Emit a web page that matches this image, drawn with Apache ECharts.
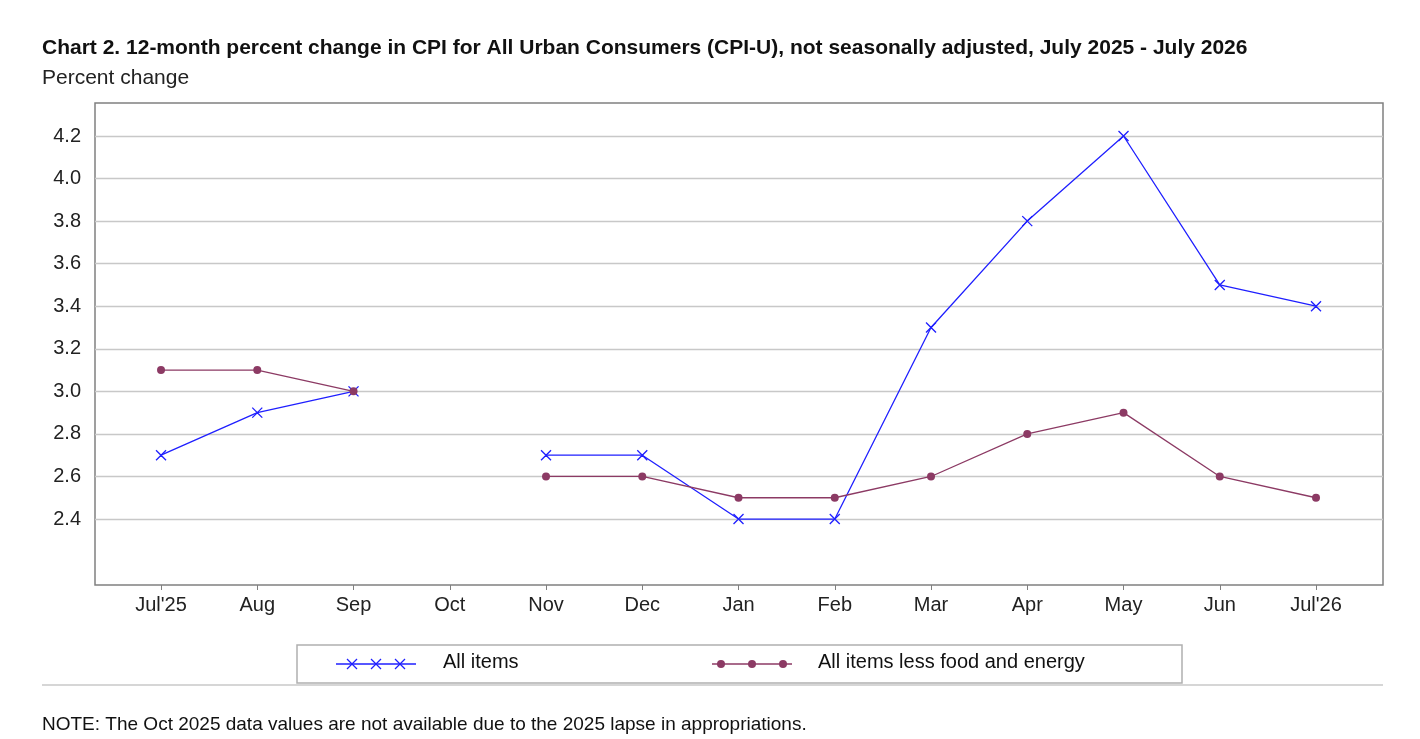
<!DOCTYPE html>
<html>
<head>
<meta charset="utf-8">
<script src="https://cdn.jsdelivr.net/npm/echarts@6/dist/echarts.min.js"></script>
<style>
  html, body { margin: 0; padding: 0; background: #fff; }
  #main { width: 1420px; height: 739px; }
</style>
</head>
<body>
<div id="main"></div>
<script>
var months = ["Jul'25", "Aug", "Sep", "Oct", "Nov", "Dec", "Jan", "Feb", "Mar", "Apr", "May", "Jun", "Jul'26"];
var allItems = [2.7, 2.9, 3.0, null, 2.7, 2.7, 2.4, 2.4, 3.3, 3.8, 4.2, 3.5, 3.4];
var coreItems = [3.1, 3.1, 3.0, null, 2.6, 2.6, 2.5, 2.5, 2.6, 2.8, 2.9, 2.6, 2.5];
var yTicks = [2.4, 2.6, 2.8, 3.0, 3.2, 3.4, 3.6, 3.8, 4.0, 4.2];

var blue = '#1f1fff';
var plum = '#8c3a64';
var crossPath = 'path://M0,0L10,10L5,5L10,0L0,10L5,5Z';

function pairs(arr) {
    return arr.map(function (v, i) { return [i, v]; });
}
var xIdx = months.map(function (m, i) { return i; });

// legend icon pieces (decoration, not data)
var legendGraphics = [
    { type: 'line', shape: { x1: 42, y1: 685, x2: 1383, y2: 685 }, style: { stroke: '#c8c8c8', lineWidth: 1.5 } },
    { type: 'rect', shape: { x: 297, y: 645, width: 885, height: 38 }, style: { fill: '#fff', stroke: '#b0b0b0', lineWidth: 1.5 } },
    { type: 'line', shape: { x1: 336, y1: 664, x2: 416, y2: 664 }, style: { stroke: blue, lineWidth: 1.3 } },
    { type: 'text', left: 443, top: 652, style: { text: 'All items', fontSize: 20, fill: '#111', fontFamily: 'Liberation Sans' } },
    { type: 'line', shape: { x1: 712, y1: 664, x2: 792, y2: 664 }, style: { stroke: plum, lineWidth: 1.3 } },
    { type: 'text', left: 818, top: 652, style: { text: 'All items less food and energy', fontSize: 20, fill: '#111', fontFamily: 'Liberation Sans' } }
];
[352, 376, 400].forEach(function (cx) {
    legendGraphics.push({ type: 'line', shape: { x1: cx - 5, y1: 659, x2: cx + 5, y2: 669 }, style: { stroke: blue, lineWidth: 1.3 } });
    legendGraphics.push({ type: 'line', shape: { x1: cx + 5, y1: 659, x2: cx - 5, y2: 669 }, style: { stroke: blue, lineWidth: 1.3 } });
});
[721, 752, 783].forEach(function (cx) {
    legendGraphics.push({ type: 'circle', shape: { cx: cx, cy: 664, r: 4 }, style: { fill: plum } });
});

var myChart = echarts.init(document.getElementById('main'));
var option = {
    backgroundColor: '#fff',
    animation: false,
    textStyle: { fontFamily: 'Liberation Sans' },
    title: [{
        text: 'Chart 2. 12-month percent change in CPI for All Urban Consumers (CPI-U), not seasonally adjusted, July 2025 - July 2026',
        left: 37, top: 33,
        textStyle: { fontSize: 21, fontWeight: 'bold', color: '#111', fontFamily: 'Liberation Sans' }
    }, {
        text: 'Percent change',
        left: 37, top: 63,
        textStyle: { fontSize: 21, fontWeight: 'normal', color: '#222', fontFamily: 'Liberation Sans' }
    }, {
        text: 'NOTE: The Oct 2025 data values are not available due to the 2025 lapse in appropriations.',
        left: 37, top: 710,
        textStyle: { fontSize: 19, fontWeight: 'normal', color: '#111', fontFamily: 'Liberation Sans' }
    }],
    grid: { left: 95, right: 37, top: 103, bottom: 154, show: true, borderColor: '#808080', borderWidth: 1.5 },
    xAxis: {
        type: 'value',
        min: -0.686, max: 12.696,
        axisLine: { show: false },
        splitLine: { show: false },
        axisTick: { show: true, customValues: xIdx, length: 5, lineStyle: { color: '#808080' } },
        axisLabel: {
            customValues: xIdx, color: '#222', fontSize: 20, margin: 10,
            formatter: function (v) { return months[Math.round(v)]; }
        }
    },
    yAxis: {
        type: 'value',
        min: 2.09, max: 4.355,
        axisLine: { show: false },
        axisTick: { show: false, customValues: yTicks },
        splitLine: { show: true, lineStyle: { color: '#c8c8c8', width: 1.3 } },
        axisLabel: {
            customValues: yTicks, color: '#222', fontSize: 20, margin: 14,
            formatter: function (v) { return v.toFixed(1); }
        }
    },
    graphic: legendGraphics,
    series: [{
        name: 'All items',
        type: 'line',
        data: pairs(allItems),
        connectNulls: false,
        symbol: crossPath,
        symbolSize: 10,
        lineStyle: { color: blue, width: 1.3 },
        itemStyle: { color: blue, borderColor: blue, borderWidth: 1.3 }
    }, {
        name: 'All items less food and energy',
        type: 'line',
        data: pairs(coreItems),
        connectNulls: false,
        symbol: 'circle',
        symbolSize: 8,
        lineStyle: { color: plum, width: 1.3 },
        itemStyle: { color: plum, borderWidth: 0 }
    }]
};
myChart.setOption(option);
</script>
</body>
</html>
